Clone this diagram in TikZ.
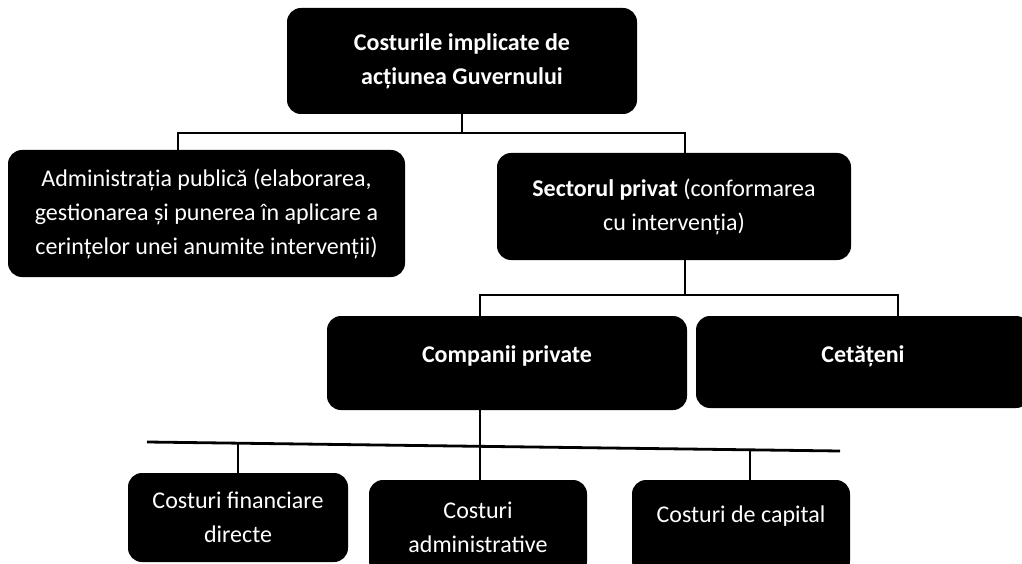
\documentclass[tikz,border=0pt]{standalone}
\usepackage{fontspec}
\setmainfont{Carlito}
\usetikzlibrary{shapes.geometric, arrows}
\tikzstyle{costbox} = [rectangle, rounded corners=14pt, fill=black, text=white, align=center, font=\fontsize{24}{34}\selectfont]
\tikzstyle{boldbox} = [costbox, font=\fontsize{24}{34}\selectfont\bfseries]
\tikzstyle{line} = [line width=2pt, black]

\begin{document}
\begin{tikzpicture}[x=1pt, y=1pt]
            \clip (0,0) rectangle (1022,-564);
            \node [boldbox, minimum width=350, minimum height=106] at (462,-61) (gov) {Costurile implicate de\\acțiunea Guvernului};
            \node [costbox, minimum width=397, minimum height=127] at (206.5,-213.5) (admin) {Administrația publică (elaborarea,\\gestionarea și punerea în aplicare a\\cerințelor unei anumite intervenții)};
            \node [costbox, minimum width=354, minimum height=107] at (674,-206.5) (sector) {\textbf{Sectorul privat} (conformarea\\cu intervenția)};
            \node [boldbox, minimum width=360, minimum height=94, text height=17pt, text depth=18pt] at (507,-363) (companii) {Companii private};
            \node [boldbox, minimum width=334, minimum height=92, text height=17pt, text depth=16pt] at (863,-362) (cetateni) {Cetățeni};
            \node [costbox, minimum width=220, minimum height=89] at (238,-517.5) (fin) {Costuri financiare\\directe};
            \node [costbox, minimum width=218, minimum height=95] at (478,-527.5) (adm) {Costuri\\administrative};
            \node [costbox, minimum width=218, minimum height=95, text depth=26pt] at (741,-527.5) (cap) {Costuri de capital};

            \draw [line] (gov.south) -- ++(0,-19) coordinate (bus1);
            \draw [line] ([xshift=-28.5]admin.north) |- (bus1) -| ([xshift=11]sector.north);
            \draw [line] ([xshift=11]sector.south) -- ++(0,-35) coordinate (bus2);
            \draw [line] ([xshift=-27]companii.north) |- (bus2) -| ([xshift=35]cetateni.north);

            \coordinate (busL) at (147,-442);
            \coordinate (busR) at (840,-451);
            \draw [line, line width=2.8pt] (busL) -- (busR);
            \draw [line, line width=2.6pt] ([xshift=-27]companii.south) -- ([xshift=2]adm.north);
            \coordinate (finTop) at (fin.north);
            \coordinate (capTop) at ([xshift=9]cap.north);
            \draw [line] (finTop) -- (finTop |- busL);
            \draw [line] (capTop) -- ([yshift=1]capTop |- busR);
            \end{tikzpicture}
\end{document}
